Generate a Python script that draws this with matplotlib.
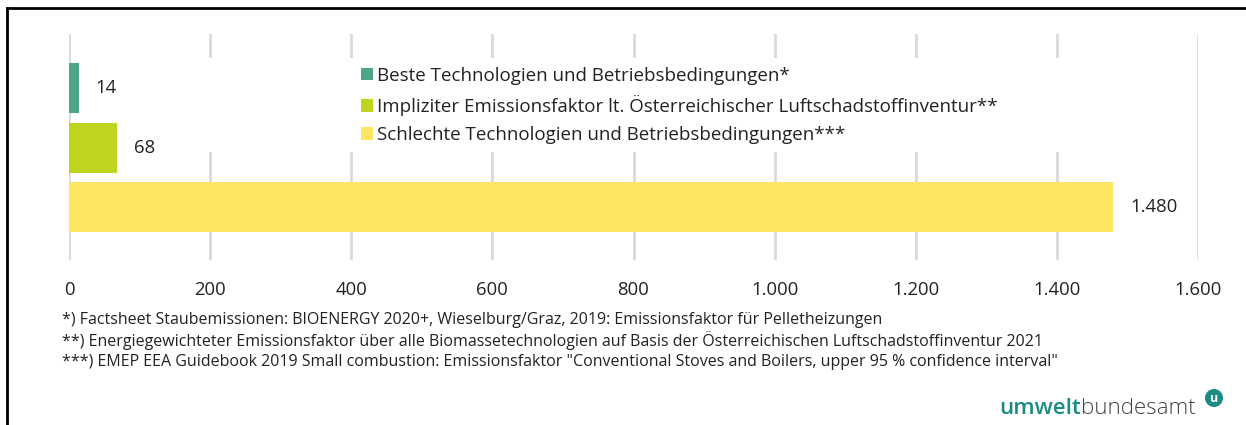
import matplotlib.pyplot as plt
from matplotlib.patches import Rectangle
from matplotlib.lines import Line2D
from matplotlib.offsetbox import TextArea, HPacker, AnnotationBbox
from matplotlib.ticker import FuncFormatter

plt.rcParams["font.family"] = ["Open Sans", "DejaVu Sans"]

categories = [
    "Beste Technologien und Betriebsbedingungen*",
    "Impliziter Emissionsfaktor lt. Österreichischer Luftschadstoffinventur**",
    "Schlechte Technologien und Betriebsbedingungen***",
]
values = [14, 68, 1480]
colors = ["#4DA58A", "#BED41E", "#FFE562"]
x_ticks = [0, 200, 400, 600, 800, 1000, 1200, 1400, 1600]
footnotes = [
    "*) Factsheet Staubemissionen: BIOENERGY 2020+, Wieselburg/Graz, 2019: Emissionsfaktor für Pelletheizungen",
    "**) Energiegewichteter Emissionsfaktor über alle Biomassetechnologien auf Basis der Österreichischen Luftschadstoffinventur 2021",
    "***) EMEP EEA Guidebook 2019 Small combustion: Emissionsfaktor \"Conventional Stoves and Boilers, upper 95 % confidence interval\"",
]


def de_fmt(v, pos=None):
    return f"{int(round(v)):,}".replace(",", ".")


fig = plt.figure(figsize=(12.46, 4.25), dpi=100)
ax = fig.add_axes([0.0554, 0.388, 0.9061, 0.532])

positions = list(range(len(values)))
bars = ax.barh(positions, values, height=0.84, color=colors, zorder=2)
for b, c in zip(bars, categories):
    b.set_label(c)

for p, v in zip(positions, values):
    ax.annotate(de_fmt(v), (v, p), xytext=(12, 0), textcoords="offset points",
                va="center", ha="left", fontsize=13.3, color="#222222")

ax.set_xlim(0, 1600)
ax.set_ylim(2.89, -0.91)
ax.set_xticks(x_ticks)
ax.xaxis.set_major_formatter(FuncFormatter(de_fmt))
ax.set_yticks([])
ax.tick_params(axis="x", length=0, pad=15, labelsize=13.3, labelcolor="#222222")
ax.grid(axis="x", color="#D9D9D9", linewidth=2, zorder=0)
ax.set_axisbelow(True)
for s in ax.spines.values():
    s.set_visible(False)

# white area behind the legend hides the gridlines
ax.add_patch(Rectangle((0.072, 0.478), 0.87, 0.416, transform=ax.transAxes,
                       facecolor="white", edgecolor="none", zorder=1))

leg = ax.legend(loc="upper left", bbox_to_anchor=(0.2585, 0.856), frameon=False,
                fontsize=13.5, handlelength=0.65, handleheight=0.65,
                handletextpad=0.22, labelspacing=0.55, borderaxespad=0,
                borderpad=0)
for t in leg.get_texts():
    t.set_color("#222222")

for i, line in enumerate(footnotes):
    fig.text(0.0498, 1 - (320 + i * 21) / 425, line, fontsize=11.5,
             color="#222222", va="center", ha="left")

# frame lines
fig.add_artist(Line2D([7 / 1246, 7 / 1246], [0, 1 - 8 / 425], color="black", lw=2))
fig.add_artist(Line2D([7 / 1246, 1], [1 - 8 / 425, 1 - 8 / 425], color="black", lw=2))

# logo
logo = HPacker(children=[
    TextArea("umwelt", textprops=dict(fontsize=16, fontweight="semibold", color="#1A8C84")),
    TextArea("bundesamt", textprops=dict(fontsize=16, fontweight="light", color="#444444")),
], sep=0, pad=0, align="baseline")
fig.add_artist(AnnotationBbox(logo, (1196 / 1246, 1 - 408 / 425), xycoords="figure fraction",
                              box_alignment=(1, 0.5), frameon=False))
fig.text(1214 / 1246, 1 - 398 / 425, "u", fontsize=9, fontweight="bold", color="white",
         ha="center", va="center",
         bbox=dict(boxstyle="circle,pad=0.2", fc="#1A8C84", ec="none"))

fig.savefig("out.png", dpi=100)
